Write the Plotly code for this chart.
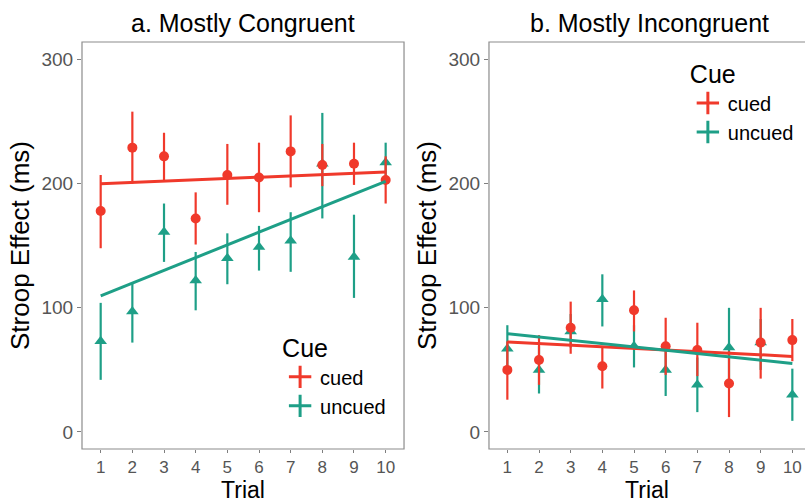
import plotly.graph_objects as go

trials = [1, 2, 3, 4, 5, 6, 7, 8, 9, 10]

# Panel a: Mostly Congruent
mc_cued = [178, 229, 222, 172, 207, 205, 226, 215, 216, 203]
mc_cued_hi = [207, 258, 241, 193, 232, 233, 255, 232, 233, 222]
mc_cued_lo = [148, 200, 202, 151, 183, 177, 197, 198, 199, 184]
mc_uncued = [73, 97, 161, 122, 140, 149, 154, 216, 141, 217]
mc_uncued_hi = [104, 120, 184, 145, 160, 166, 177, 257, 175, 233]
mc_uncued_lo = [42, 72, 137, 98, 119, 130, 129, 172, 108, 201]
mc_fit_cued = [200, 209.4]      # fitted line at trial 1 and trial 10
mc_fit_uncued = [109.7, 201.9]

# Panel b: Mostly Incongruent
mi_cued = [50, 58, 84, 53, 98, 69, 66, 39, 72, 74]
mi_cued_hi = [73, 78, 105, 69, 114, 92, 88, 65, 100, 91]
mi_cued_lo = [26, 38, 63, 35, 81, 46, 45, 12, 43, 57]
mi_uncued = [67, 50, 81, 107, 69, 50, 38, 68, 72, 30]
mi_uncued_hi = [86, 69, 95, 127, 86, 70, 60, 100, 91, 51]
mi_uncued_lo = [48, 31, 68, 85, 52, 29, 16, 37, 50, 9]
mi_fit_cued = [72.5, 60.9]
mi_fit_uncued = [79.2, 55.2]

fit_x = [1, 10]
y_ticks = [0, 100, 200, 300]
titles = ["a. Mostly Congruent", "b. Mostly Incongruent"]

RED = "#F0392B"
TEAL = "#1E9F87"
FONT = "Liberation Sans"

fig = go.Figure()

def add_panel(xa, ya, cued, chi, clo, unc, uhi, ulo, fitc, fitu, legend):
    for vals, hi, lo, col, sym in [(unc, uhi, ulo, TEAL, "triangle-up"),
                                   (cued, chi, clo, RED, "circle")]:
        fig.add_trace(go.Scatter(
            x=trials, y=vals, mode="markers", xaxis=xa, yaxis=ya,
            marker=dict(color=col, size=10 if sym == "circle" else 11, symbol=sym),
            error_y=dict(type="data", symmetric=False,
                         array=[h - v for h, v in zip(hi, vals)],
                         arrayminus=[v - l for v, l in zip(vals, lo)],
                         color=col, thickness=2.2, width=0),
            showlegend=False, hoverinfo="skip"))
    for fit, col in [(fitc, RED), (fitu, TEAL)]:
        fig.add_trace(go.Scatter(x=fit_x, y=fit, mode="lines", xaxis=xa, yaxis=ya,
                                 line=dict(color=col, width=3), showlegend=False,
                                 hoverinfo="skip"))
    for name, col in [("cued", RED), ("uncued", TEAL)]:
        fig.add_trace(go.Scatter(x=[None], y=[None], mode="markers", name=name,
                                 xaxis=xa, yaxis=ya, legend=legend,
                                 marker=dict(color=col, size=16, symbol="cross-thin",
                                             line=dict(color=col, width=3))))

add_panel("x", "y", mc_cued, mc_cued_hi, mc_cued_lo, mc_uncued, mc_uncued_hi,
          mc_uncued_lo, mc_fit_cued, mc_fit_uncued, "legend")
add_panel("x2", "y2", mi_cued, mi_cued_hi, mi_cued_lo, mi_uncued, mi_uncued_hi,
          mi_uncued_lo, mi_fit_cued, mi_fit_uncued, "legend2")

axis_common = dict(showgrid=False, zeroline=False, ticks="outside",
                   tickcolor="#7f7f7f", tickwidth=1)

x_common = dict(axis_common, tickvals=trials, showline=False, ticklen=3,
                tickfont=dict(family=FONT, size=17, color="#555555"),
                title=dict(text="Trial", font=dict(family=FONT, size=23, color="black"),
                           standoff=2))
y_common = dict(axis_common, tickvals=y_ticks, range=[-13.7, 314.1], showline=False,
                ticklen=4,
                tickfont=dict(family=FONT, size=19, color="#555555"),
                title=dict(text="Stroop Effect (ms)",
                           font=dict(family=FONT, size=26, color="black"), standoff=4))

leg_common = dict(xanchor="left", yanchor="top", bgcolor="rgba(0,0,0,0)",
                  itemwidth=30, tracegroupgap=0,
                  title=dict(text="Cue", font=dict(family=FONT, size=25, color="black")),
                  font=dict(family=FONT, size=20, color="black"))

fig.update_layout(
    width=805, height=504,
    margin=dict(l=82, r=0, t=42, b=55),
    paper_bgcolor="white", plot_bgcolor="white",
    xaxis=dict(x_common, domain=[0, 0.4454], range=[0.41, 10.58], anchor="y"),
    yaxis=dict(y_common, domain=[0, 1], anchor="x"),
    xaxis2=dict(x_common, domain=[0.5629, 1.0], range=[0.42, 10.4], anchor="y2"),
    yaxis2=dict(y_common, domain=[0, 1], anchor="x2"),
    legend=dict(leg_common, x=0.274, y=0.305),
    legend2=dict(leg_common, x=0.838, y=0.978),
    showlegend=True,
)

# panel borders
fig.add_shape(type="rect", xref="paper", yref="paper", x0=0, x1=0.4454, y0=0, y1=1,
              line=dict(color="#8c8c8c", width=1.2), layer="below")
fig.add_shape(type="rect", xref="paper", yref="paper", x0=0.5629, x1=1.02, y0=0, y1=1,
              line=dict(color="#8c8c8c", width=1.2), layer="below")

# panel titles
centers = [0.4454 / 2, 0.5629 + 0.4454 / 2]
for t, cx in zip(titles, centers):
    fig.add_annotation(text=t, x=cx, y=1.0, xref="paper", yref="paper",
                       xanchor="center", yanchor="bottom", yshift=3, showarrow=False,
                       font=dict(family=FONT, size=25, color="black"))

fig.write_html("out.html")
